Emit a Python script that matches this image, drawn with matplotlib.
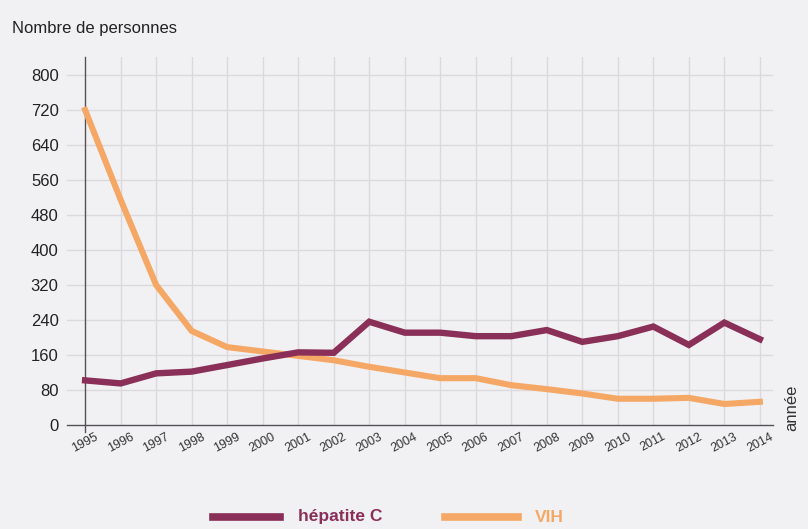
import matplotlib
matplotlib.use("Agg")
import matplotlib.pyplot as plt
from matplotlib.lines import Line2D

plt.rcParams['font.family'] = ['Liberation Sans', 'DejaVu Sans']

years = list(range(1995, 2015))
hepatite_c = [102, 95, 118, 122, 137, 152, 166, 165, 236, 211, 211, 203, 203, 217, 190, 203, 225, 183, 234, 196]
vih = [720, 515, 320, 215, 178, 168, 158, 148, 133, 120, 107, 107, 91, 82, 72, 60, 60, 62, 48, 53]
y_ticks = [0, 80, 160, 240, 320, 400, 480, 560, 640, 720, 800]

col_hep = "#8a2f58"
col_vih = "#f5a866"
bg = "#f1f1f3"

W, H = 808, 529
fig = plt.figure(figsize=(W / 100, H / 100), dpi=100)
fig.patch.set_facecolor(bg)

left, right, top, bottom = 67, 773, 57, 425
ax = fig.add_axes([left / W, 1 - bottom / H, (right - left) / W, (bottom - top) / H])
ax.set_facecolor(bg)

ax.set_xlim(1994.49, 2014.37)
ax.set_ylim(0, 841)

for s in ["top", "right", "left"]:
    ax.spines[s].set_visible(False)
ax.spines["bottom"].set_color("#555055")
ax.spines["bottom"].set_linewidth(1.0)

ax.set_yticks(y_ticks)
ax.set_yticklabels([str(v) for v in y_ticks], fontsize=12, color="#222222")
ax.tick_params(axis="y", length=0, pad=6)
ax.set_xticks(years)
ax.set_xticklabels([str(y) for y in years], rotation=28, fontsize=9, color="#333333",
                   ha="center", rotation_mode="default")
ax.tick_params(axis="x", length=0, pad=4)

for y in y_ticks[1:]:
    ax.axhline(y, color="#dcd8db", lw=1.0, zorder=0)
for x in years[1:]:
    ax.axvline(x, color="#dcd8db", lw=1.0, zorder=0)

# y axis line at 1995
ax.plot([years[0], years[0]], [-16, 841], color="#555055", lw=1.0, clip_on=False, zorder=1)

ax.plot(years, vih, color=col_vih, lw=4.4, solid_joinstyle="miter", zorder=3)
ax.plot(years, hepatite_c, color=col_hep, lw=4.6, solid_joinstyle="miter", zorder=4)

fig.text(12 / W, 1 - 28 / H, "Nombre de personnes", fontsize=12, color="#222222",
         ha="left", va="center")
fig.text(792 / W, 1 - 408 / H, "année", fontsize=12, color="#333333", rotation=90,
         ha="center", va="center")

# legend
ly = 1 - 517 / H
fig.add_artist(Line2D([213 / W, 280 / W], [ly, ly], color=col_hep, lw=5.5))
fig.text(298 / W, ly, "hépatite C", fontsize=12.5, color=col_hep, fontweight="bold",
         ha="left", va="center")
fig.add_artist(Line2D([445 / W, 518 / W], [ly, ly], color=col_vih, lw=5.5))
fig.text(535 / W, ly, "VIH", fontsize=12.5, color=col_vih, fontweight="bold",
         ha="left", va="center")

fig.savefig("out.png", dpi=100, facecolor=bg)
